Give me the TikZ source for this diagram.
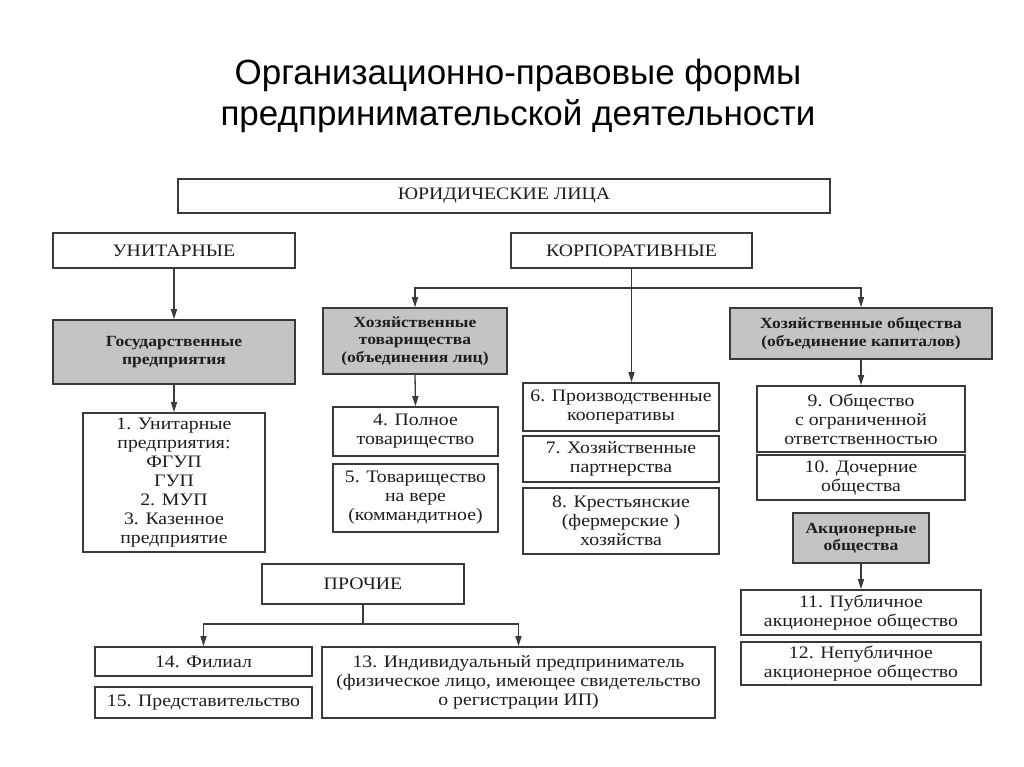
\documentclass[tikz,border=0pt]{standalone}
\usepackage{fontspec}
\setmainfont{Liberation Serif}[FakeStretch=1.13]
\newfontfamily\titlefont{Liberation Sans}
\usetikzlibrary{arrows.meta}
\definecolor{ln}{HTML}{3A3A3A}
\definecolor{tx}{HTML}{1E1E1E}
\definecolor{gf}{HTML}{C4C4C4}
\tikzset{
  x=1pt,y=-1pt,
  box/.style={draw=ln,line width=1.6pt,fill=white,rectangle,inner sep=0pt,align=center,text=tx,
    font=\fontsize{17.5}{19}\selectfont},
  hbox/.style={box,font=\fontsize{17.5}{19}\selectfont},
  gbox/.style={box,fill=gf,font=\bfseries\fontsize{15.5}{17.5}\selectfont},
  conn/.style={draw=ln,line width=1.3pt},
  arr/.style={conn,-{Triangle[length=10pt,width=6pt]}},
}
\newcommand{\bx}[6]{\node[#1,minimum width=#4,minimum height=#5] (#2) at (#3) {#6};}
\begin{document}
\begin{tikzpicture}
\useasboundingbox[fill=white] (0,0) rectangle (1024,767);
\node[text=black,font=\titlefont\fontsize{35}{41}\selectfont,align=center] (title) at (518,96)
  {Организационно-правовые формы\\предпринимательской деятельности};
\bx{hbox}{jur}{504,196}{652pt}{34pt}{ЮРИДИЧЕСКИЕ ЛИЦА}
\bx{hbox}{unit}{174,250.5}{242pt}{35pt}{УНИТАРНЫЕ}
\bx{hbox}{corp}{631.5,250.5}{241pt}{35pt}{КОРПОРАТИВНЫЕ}
\bx{gbox}{gos}{174,352}{242pt}{64pt}{Государственные\\предприятия}
\bx{gbox}{tov}{415,341}{184pt}{66pt}{Хозяйственные\\товарищества\\(объединения лиц)}
\bx{gbox}{obsh}{861,333.5}{262pt}{51pt}{Хозяйственные общества\\(объединение капиталов)}
\bx{box}{b1}{174,482.5}{182pt}{139pt}{1. Унитарные\\предприятия:\\ФГУП\\ГУП\\2. МУП\\3. Казенное\\предприятие}
\bx{box}{b4}{415.5,431.5}{165pt}{49pt}{4. Полное\\товарищество}
\bx{box}{b5}{415.5,498}{165pt}{68pt}{5. Товарищество\\на вере\\(коммандитное)}
\bx{box}{b6}{621,407}{196pt}{48pt}{6. Производственные\\кооперативы}
\bx{box}{b7}{621,459}{196pt}{46pt}{7. Хозяйственные\\партнерства}
\bx{box}{b8}{621,521}{196pt}{66pt}{8. Крестьянские\\(фермерские )\\хозяйства}
\bx{box}{b9}{861,419}{208pt}{66pt}{9. Общество\\с ограниченной\\ответственностью}
\bx{box}{b10}{861,477.5}{208pt}{45pt}{10. Дочерние\\общества}
\bx{gbox}{akc}{861,538}{136pt}{50pt}{Акционерные\\общества}
\bx{box}{b11}{861,612.5}{240pt}{45pt}{11. Публичное\\акционерное общество}
\bx{box}{b12}{861,663.5}{240pt}{43pt}{12. Непубличное\\акционерное общество}
\bx{hbox}{proch}{363,584}{202pt}{40pt}{ПРОЧИЕ}
\bx{box}{b14}{203.5,661.5}{217pt}{29pt}{14. Филиал}
\bx{box}{b15}{203.5,702.5}{217pt}{31pt}{15. Представительство}
\bx{box}{b13}{518.5,682.5}{393pt}{71pt}{13. Индивидуальный предприниматель\\(физическое лицо, имеющее свидетельство\\о регистрации ИП)}
% connectors
\draw[arr] (unit.south) -- (gos.north);
\draw[arr] (gos.south) -- (b1.north);
\coordinate (cbar) at (631.5,288);
\draw[arr] (corp.south) -- (corp.south |- b6.north);
\draw[arr] (cbar) -| (tov.north);
\draw[arr] (cbar) -| (obsh.north);
\draw[arr] (tov.south) -- (b4.north);
\draw[arr] (obsh.south) -- (b9.north);
\draw[arr] (akc.south) -- (b11.north);
\coordinate (pbar) at (363,624);
\draw[conn] (proch.south) -- (pbar);
\draw[arr] (pbar) -| (b14.north);
\draw[arr] (pbar) -| (b13.north);
\end{tikzpicture}
\end{document}
